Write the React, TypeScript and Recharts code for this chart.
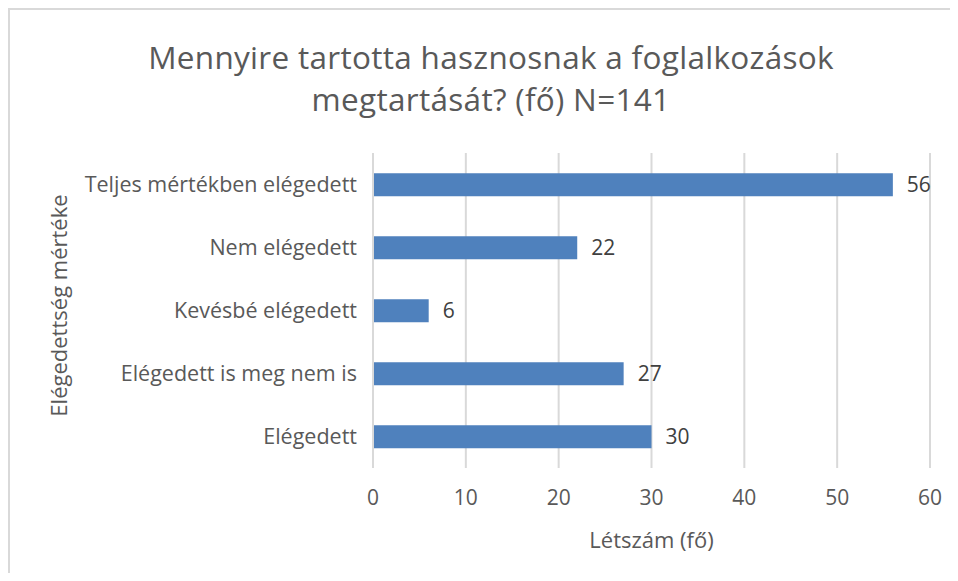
import { Bar, BarChart, CartesianGrid, Label, LabelList, XAxis, YAxis } from "recharts";

const categories = [
  "Teljes mértékben elégedett",
  "Nem elégedett",
  "Kevésbé elégedett",
  "Elégedett is meg nem is",
  "Elégedett",
];
const counts = [56, 22, 6, 27, 30];
const xTicks = [0, 10, 20, 30, 40, 50, 60];

const data = categories.map((name, i) => ({ name, count: counts[i] }));

const font = "'Open Sans', 'Segoe UI', sans-serif";
const grey = "#595959";

export default function App() {
  return (
    <div
      style={{
        position: "relative",
        width: 942,
        height: 565,
        borderTop: "2px solid #d9d9d9",
        borderLeft: "2px solid #d9d9d9",
        boxSizing: "border-box",
        fontFamily: font,
        background: "#fff",
      }}
    >
      <div
        style={{
          position: "absolute",
          left: 0,
          top: 26,
          width: 962,
          textAlign: "center",
          fontSize: 31.5,
          lineHeight: "42px",
          color: grey,
          letterSpacing: 0.3,
        }}
      >
        Mennyire tartotta hasznosnak a foglalkozások
        <br />
        megtartását? (fő) N=141
      </div>
      <BarChart
        width={940}
        height={563}
        data={data}
        layout="vertical"
        margin={{ top: 143, right: 20, bottom: 15, left: 0 }}
        barCategoryGap="32%"
        style={{ position: "absolute", left: 0, top: 0 }}
      >
        <CartesianGrid horizontal={false} stroke="#d9d9d9" strokeWidth={2} />
        <XAxis
          type="number"
          domain={[0, 60]}
          ticks={xTicks}
          axisLine={false}
          tickLine={false}
          tickMargin={16}
          height={90}
          tick={{ fill: grey, fontSize: 21, fontFamily: font }}
        >
          <Label
            value="Létszám (fő)"
            position="insideBottom"
            offset={10}
            style={{ fill: grey, fontSize: 22, fontFamily: font }}
          />
        </XAxis>
        <YAxis
          type="category"
          dataKey="name"
          width={363}
          axisLine={{ stroke: "#d9d9d9", strokeWidth: 2 }}
          tickLine={false}
          tickMargin={10}
          tick={{ fill: grey, fontSize: 21.5, fontFamily: font }}
        >
          <Label
            content={({ viewBox }: any) => {
              const cy = viewBox.y + viewBox.height / 2 - 5;
              const x = 48;
              return (
                <text
                  x={x}
                  y={cy}
                  transform={`rotate(-90 ${x} ${cy})`}
                  textAnchor="middle"
                  dominantBaseline="central"
                  fill={grey}
                  fontSize={22}
                  fontFamily={font}
                >
                  Elégedettség mértéke
                </text>
              );
            }}
          />
        </YAxis>
        <Bar dataKey="count" fill="#4f81bd" isAnimationActive={false}>
          <LabelList
            dataKey="count"
            position="right"
            offset={14}
            style={{ fill: "#404040", fontSize: 21, fontFamily: font }}
          />
        </Bar>
      </BarChart>
    </div>
  );
}
